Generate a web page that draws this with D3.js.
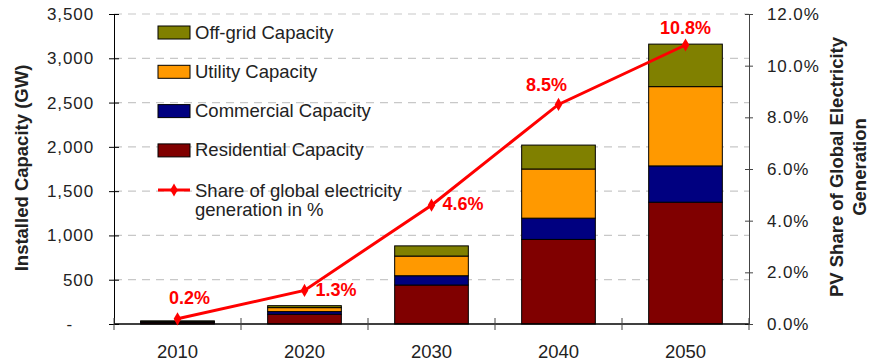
<!DOCTYPE html>
<html>
<head>
<meta charset="utf-8">
<script src="https://cdn.jsdelivr.net/npm/d3@7"></script>
<style>
  body { margin: 0; background: #fff; }
  svg { display: block; font-family: "Liberation Sans", Arial, sans-serif; }
</style>
</head>
<body>
<div id="chart"></div>
<script>
// Data
var years = ["2010", "2020", "2030", "2040", "2050"];
var residential = [20, 110, 440, 955, 1375];
var commercial = [5, 30, 105, 240, 410];
var utility = [5, 45, 222, 555, 895];
var offgrid = [5, 22, 115, 270, 480];
var share = [0.2, 1.3, 4.6, 8.5, 10.8];
var leftTicks = [0, 500, 1000, 1500, 2000, 2500, 3000, 3500];
var rightTicks = [0, 2, 4, 6, 8, 10, 12];

var seriesNames = ["Residential Capacity", "Commercial Capacity", "Utility Capacity", "Off-grid Capacity"];
var seriesKeys = ["residential", "commercial", "utility", "offgrid"];
var colors = ["#800000", "#000080", "#FF9900", "#808000"];

var width = 872, height = 364;
// plot area (note: "top" is a reserved window property, so use other names)
var plotLeft = 114, plotRight = 749, plotTop = 14, plotBottom = 324;

var svg = d3.select("#chart").append("svg")
    .attr("width", width)
    .attr("height", height);

var x = d3.scaleBand().domain(years).range([plotLeft, plotRight]).padding(0);
var y = d3.scaleLinear().domain([0, 3500]).range([plotBottom, plotTop]);
var y2 = d3.scaleLinear().domain([0, 12]).range([plotBottom, plotTop]);

// gridlines
svg.append("g")
    .selectAll("line")
    .data(leftTicks.slice(1))
    .enter()
    .append("line")
    .attr("x1", plotLeft)
    .attr("x2", plotRight)
    .attr("y1", function(d) { return y(d); })
    .attr("y2", function(d) { return y(d); })
    .attr("stroke", "#c8c8c8")
    .attr("stroke-width", 1.2)
    .attr("stroke-dasharray", "8,6");

// stacked bars
var table = years.map(function(yr, i) {
    return {year: yr, residential: residential[i], commercial: commercial[i], utility: utility[i], offgrid: offgrid[i]};
});
var stacked = d3.stack().keys(seriesKeys)(table);
var barW = x.bandwidth() * 0.58;

svg.append("g")
    .selectAll("g")
    .data(stacked)
    .enter()
    .append("g")
    .attr("fill", function(d, i) { return colors[i]; })
    .selectAll("rect")
    .data(function(d) { return d; })
    .enter()
    .append("rect")
    .attr("x", function(d) { return x(d.data.year) + (x.bandwidth() - barW) / 2; })
    .attr("width", barW)
    .attr("y", function(d) { return y(d[1]); })
    .attr("height", function(d) { return y(d[0]) - y(d[1]); })
    .attr("stroke", "#000")
    .attr("stroke-width", 1);

// left axis
var yAxis = svg.append("g")
    .attr("transform", "translate(" + plotLeft + ",0)")
    .call(d3.axisLeft(y).tickValues(leftTicks).tickSize(5).tickPadding(15)
        .tickFormat(function(d) { return d == 0 ? "-" : d3.format(",")(d); }));
yAxis.select(".domain").attr("stroke", "#000");
yAxis.selectAll(".tick line").attr("x1", 5).attr("stroke", "#000");
yAxis.selectAll("text")
    .attr("font-size", "17px")
    .attr("letter-spacing", "0.9px")
    .attr("fill", "#222")
    .style("font-family", "Liberation Sans, Arial, sans-serif");
yAxis.selectAll(".tick").filter(function(d) { return d == 0; })
    .select("text").attr("x", -41);

// right axis
var yAxis2 = svg.append("g")
    .attr("transform", "translate(" + plotRight + ",0)")
    .call(d3.axisRight(y2).tickValues(rightTicks).tickSize(4).tickPadding(14)
        .tickFormat(function(d) { return d.toFixed(1) + "%"; }));
yAxis2.select(".domain").attr("stroke", "#444");
yAxis2.selectAll(".tick line").attr("x1", -4).attr("stroke", "#444");
yAxis2.selectAll("text")
    .attr("font-size", "17px")
    .attr("letter-spacing", "0.9px")
    .attr("fill", "#222")
    .style("font-family", "Liberation Sans, Arial, sans-serif");

// x axis
svg.append("line")
    .attr("x1", plotLeft).attr("x2", plotRight)
    .attr("y1", plotBottom).attr("y2", plotBottom)
    .attr("stroke", "#000").attr("stroke-width", 1.5);

var bounds = years.map(function(d) { return x(d); }).concat([plotRight]);
svg.append("g")
    .selectAll("line")
    .data(bounds)
    .enter()
    .append("line")
    .attr("x1", function(d) { return d; })
    .attr("x2", function(d) { return d; })
    .attr("y1", plotBottom - 6)
    .attr("y2", plotBottom + 6)
    .attr("stroke", "#444");

svg.append("g")
    .selectAll("text")
    .data(years)
    .enter()
    .append("text")
    .attr("x", function(d) { return x(d) + x.bandwidth() / 2; })
    .attr("y", 358)
    .attr("text-anchor", "middle")
    .attr("font-size", "18.5px")
    .attr("fill", "#222")
    .text(function(d) { return d; });

// share line
var line = d3.line()
    .x(function(d, i) { return x(years[i]) + x.bandwidth() / 2; })
    .y(function(d) { return y2(d); });

svg.append("path")
    .datum(share)
    .attr("d", line)
    .attr("fill", "none")
    .attr("stroke", "#FF0000")
    .attr("stroke-width", 3);

var diamond = d3.symbol().type(d3.symbolDiamond).size(50);
svg.append("g")
    .selectAll("path")
    .data(share)
    .enter()
    .append("path")
    .attr("d", diamond)
    .attr("transform", function(d, i) {
        return "translate(" + (x(years[i]) + x.bandwidth() / 2) + "," + y2(d) + ")";
    })
    .attr("fill", "#FF0000");

// value labels: offsets relative to each point
var labelDx = [12, 11, 11, -12, 0];
var labelDy = [-15, 6, 5, -13, -11];
var labelAnchor = ["middle", "start", "start", "middle", "middle"];
svg.append("g")
    .selectAll("text")
    .data(share)
    .enter()
    .append("text")
    .attr("x", function(d, i) { return x(years[i]) + x.bandwidth() / 2 + labelDx[i]; })
    .attr("y", function(d, i) { return y2(d) + labelDy[i]; })
    .attr("text-anchor", function(d, i) { return labelAnchor[i]; })
    .attr("font-size", "18px")
    .attr("font-weight", "bold")
    .attr("fill", "#FF0000")
    .text(function(d) { return d.toFixed(1) + "%"; });

// axis titles
svg.append("text")
    .attr("transform", "translate(28,168) rotate(-90)")
    .attr("text-anchor", "middle")
    .attr("font-size", "18.5px")
    .attr("font-weight", "bold")
    .attr("fill", "#222")
    .text("Installed Capacity (GW)");

var rt = svg.append("text")
    .attr("transform", "translate(843,167) rotate(-90)")
    .attr("text-anchor", "middle")
    .attr("font-size", "18.5px")
    .attr("font-weight", "bold")
    .attr("fill", "#222");
rt.append("tspan").attr("x", 0).attr("y", 0).text("PV Share of Global Electricity");
rt.append("tspan").attr("x", 0).attr("y", 23).text("Generation");

// legend (top to bottom: off-grid, utility, commercial, residential, line)
var legendOrder = [3, 2, 1, 0];
var legend = svg.append("g");
legendOrder.forEach(function(k, r) {
    var cy = 32.5 + r * 39.3;
    legend.append("rect")
        .attr("x", 158).attr("y", cy - 6.5)
        .attr("width", 32).attr("height", 13)
        .attr("fill", colors[k])
        .attr("stroke", "#000").attr("stroke-width", 1);
    legend.append("text")
        .attr("x", 195).attr("y", cy + 6)
        .attr("font-size", "18.5px")
        .attr("fill", "#222")
        .text(seriesNames[k]);
});
legend.append("line")
    .attr("x1", 158).attr("x2", 190)
    .attr("y1", 190).attr("y2", 190)
    .attr("stroke", "#FF0000").attr("stroke-width", 3);
legend.append("path")
    .attr("d", diamond)
    .attr("transform", "translate(174,190)")
    .attr("fill", "#FF0000");
var lt = legend.append("text")
    .attr("font-size", "18.5px")
    .attr("fill", "#222");
lt.append("tspan").attr("x", 195).attr("y", 196.5).text("Share of global electricity");
lt.append("tspan").attr("x", 195).attr("y", 216).text("generation in %");
</script>
</body>
</html>
